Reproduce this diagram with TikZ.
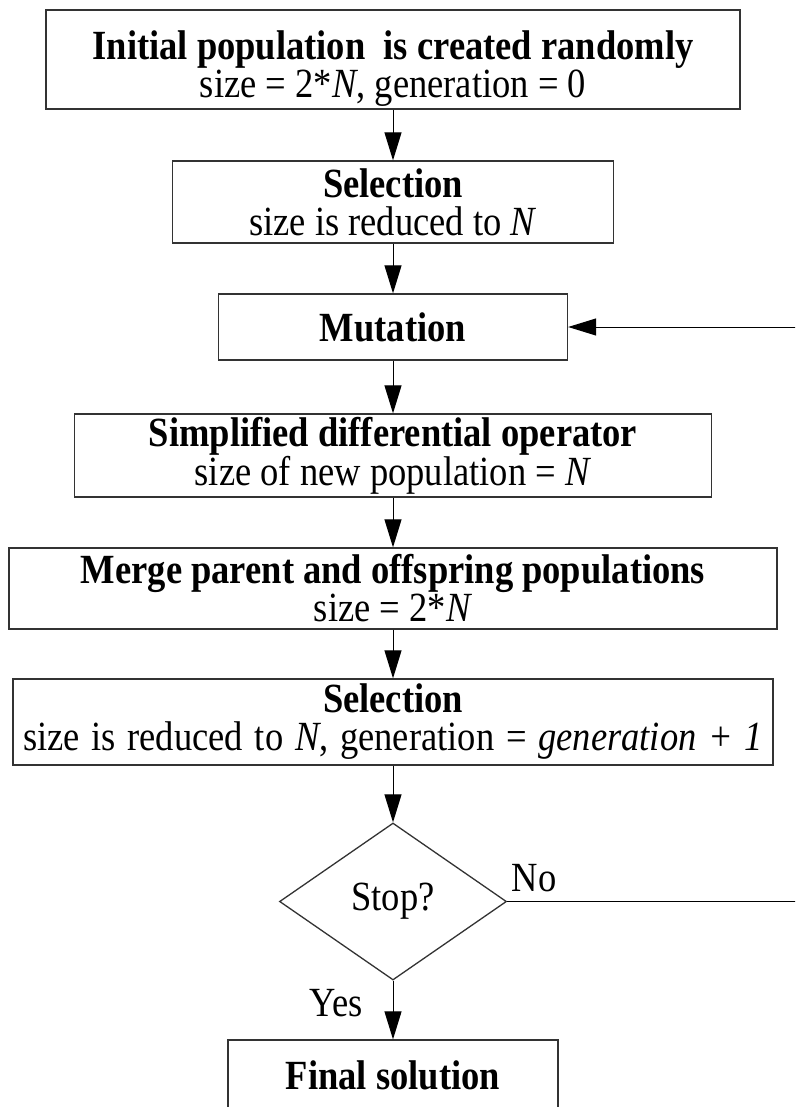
\documentclass[tikz,border=0pt]{standalone}
\usepackage{fontspec}
\setmainfont[FakeStretch=0.88]{Liberation Serif}
\usetikzlibrary{arrows.meta,shapes.geometric}
\newcommand\fsz{\fontsize{41.5}{38}\selectfont}
\begin{document}
\begin{tikzpicture}[x=1pt,y=1pt,
  box/.style={draw=black!80,line width=1.3pt,inner sep=0pt,align=center,font=\fsz},
  arr/.style={-{Triangle[length=28pt,width=17pt]},line width=1pt},
  lbl/.style={font=\fsz,inner sep=0pt}]
\useasboundingbox (0,0) rectangle (795,-1107);
\clip (0,0) rectangle (795,-1107);
\node[box,minimum width=694pt,minimum height=99pt] (init) at (393,-59.5) {\rule{0pt}{47pt}\textbf{Initial population\ \ is created randomly}\\size = 2*\textit{N}, generation = 0};
\node[box,minimum width=441pt,minimum height=82pt] (sel1) at (393,-202) {\textbf{Selection}\\size is reduced to \textit{N}};
\node[box,minimum width=349pt,minimum height=66pt] (mut) at (393,-327) {\textbf{Mutation}};
\node[box,minimum width=637pt,minimum height=83pt] (sdo) at (393,-455.5) {\textbf{Simplified differential operator}\\size of new population = \textit{N}};
\node[box,minimum width=768pt,minimum height=81pt] (merge) at (393,-588.5) {\textbf{Merge parent and offspring populations}\\size = 2*\textit{N}};
\node[box,minimum width=760pt,minimum height=86pt] (sel2) at (393,-722) {\textbf{Selection}\\\makebox[740pt][s]{size is reduced to \textit{N}, generation = \textit{generation + 1}}};
\node[box,diamond,aspect=1.45,minimum width=227pt,minimum height=157pt] (stop) at (393,-901.5) {Stop?};
\node[box,minimum width=330pt,minimum height=80pt] (final) at (393,-1080) {\raisebox{10pt}{\textbf{Final solution}}};
\node[lbl] (no) at (534,-878) {No};
\node[lbl] (yes) at (336,-1003) {Yes};
\draw[arr] (init) -- (sel1);
\draw[arr] (sel1) -- (mut);
\draw[arr] (mut) -- (sdo);
\draw[arr] (sdo) -- (merge);
\draw[arr] (merge) -- (sel2);
\draw[arr] (sel2) -- (stop);
\draw[arr] (stop) -- (final);
\draw[arr] (stop.east) -- ++(330,0) |- (mut.east);
\end{tikzpicture}
\end{document}
